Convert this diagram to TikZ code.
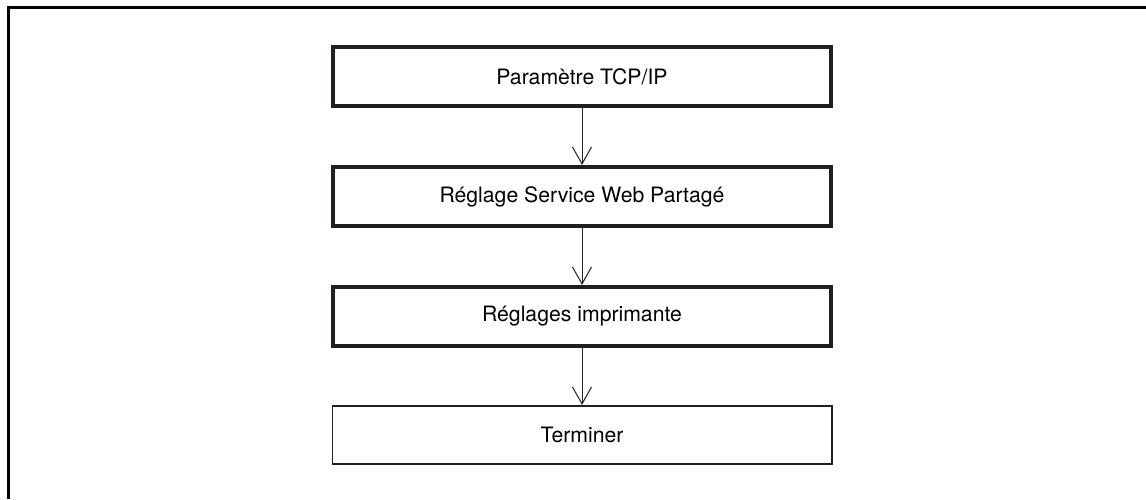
\documentclass[tikz,border=0pt]{standalone}
\usepackage{fontspec}
\setmainfont{TeX Gyre Heros}
\usetikzlibrary{arrows.meta}
\usetikzlibrary{positioning}
\definecolor{frameInk}{RGB}{35,31,32}
\tikzset{
	>={Straight Barb[length=8.5pt, width=9.5pt]},
	frameline/.style={black, line width=1.4pt},
	stepbox/.style={draw=frameInk, line width=2pt, minimum width=249pt, minimum height=29.5pt, inner sep=0pt, font=\fontsize{10.6pt}{12pt}\selectfont},
	endbox/.style={draw=frameInk, line width=0.8pt, minimum width=249.7pt, minimum height=29.2pt, inner sep=0pt, font=\fontsize{10.6pt}{12pt}\selectfont},
	flow/.style={frameInk, line width=0.5pt, ->},
}
\begin{document}
\begin{tikzpicture}[line cap=butt, line join=miter, node distance=28.5pt]
		
		% ---- Page area ----
		\useasboundingbox (0pt,0pt) rectangle (573pt,-249.5pt);
		
		% ---- Open frame (top and left edges only) ----
		\coordinate (cornerTL) at (4.3pt,-3.6pt);
		\coordinate (cornerTR) at (573pt,-3.6pt);
		\coordinate (cornerBL) at (4.3pt,-249.5pt);
		\draw[frameline] (cornerTR) -- (cornerTL) -- (cornerBL);
		
		% ---- Steps ----
		\node[stepbox] (tcpip) at (291pt,-38.25pt) {Paramètre TCP/IP};
		\node[stepbox, below=of tcpip] (webservice) {Réglage Service Web Partagé};
		\node[stepbox, below=of webservice] (printer) {Réglages imprimante};
		\node[endbox, below=of printer] (finish) {Terminer};
		
		% ---- Arrows ----
		\draw[flow] (tcpip) -- (webservice);
		\draw[flow] (webservice) -- (printer);
		\draw[flow] (printer) -- (finish);
		
	\end{tikzpicture}
\end{document}
